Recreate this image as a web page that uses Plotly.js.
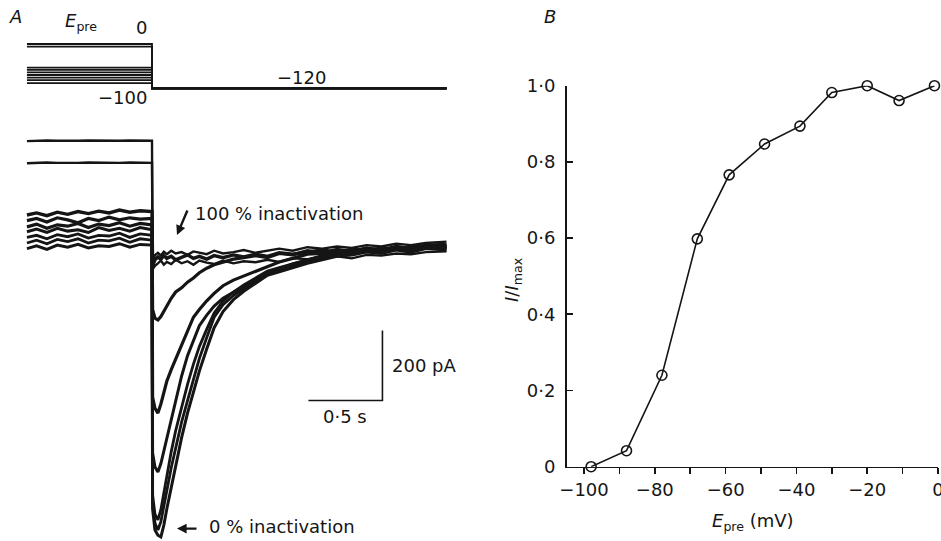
<!DOCTYPE html>
<html>
<head>
<meta charset="utf-8">
<script src="https://cdn.plot.ly/plotly-3.0.1.min.js"></script>
<style>html,body{margin:0;padding:0;background:#fff;}#chart{width:941px;height:541px;}</style>
</head>
<body>
<div id="chart"></div>
<script>
// ---------- Panel A: voltage protocol (mV) ----------
const protoStart = -0.845;   // s
const protoEnd = 1.99;       // s
const testPotential = -120;  // mV
const prepulseLevels = [0, -7, -64, -70, -77, -84, -91, -98, -106]; // mV (schematic)

// ---------- Panel A: current traces (pA, time in s) ----------
const tPre = [-0.845,-0.78,-0.71,-0.64,-0.57,-0.50,-0.43,-0.36,-0.29,-0.22,-0.15,-0.08,0];
const tPost = [0.004,0.02,0.04,0.06,0.08,0.10,0.13,0.16,0.20,0.24,0.28,0.32,0.37,0.42,0.48,0.55,0.62,0.70,0.78,0.86,0.95,1.05,1.15,1.25,1.35,1.45,1.55,1.65,1.75,1.85,1.99];

const curA_pre = [331,332,333,332,331,332,333,332,331,332,333,332,332];
const curA_post = [-35,-25,-18,-10,-22,-14,-20,-8,-18,-12,-22,-10,-16,-20,-10,-18,-12,-15,-8,-14,-4,-6,-2,2,-4,6,4,10,8,14,16];
const curB_pre = [268,269,270,269,268,269,270,269,268,269,270,269,269];
const curB_post = [-20,5,12,4,15,8,18,10,14,6,16,12,8,18,10,14,20,12,18,24,18,28,24,30,26,34,30,38,34,40,44];
const curC_pre = [120,126,118,128,122,130,124,131,126,134,128,132,130];
const curC_post = [-25,-8,0,-6,4,-4,2,-8,0,6,-4,2,-6,4,-2,6,0,8,2,12,8,14,20,14,22,18,26,22,30,28,32];
const curD_pre = [104,110,100,112,106,98,110,104,114,106,112,108,110];
const curD_post = [-150,-175,-180,-170,-155,-140,-118,-100,-88,-72,-60,-45,-32,-22,-15,-6,-2,4,-2,10,6,18,12,22,16,26,20,30,24,34,36];
const curE_pre = [86,94,82,92,88,96,84,94,90,98,88,96,92];
const curE_post = [-400,-432,-446,-420,-385,-355,-322,-292,-250,-208,-172,-150,-125,-104,-82,-66,-54,-40,-26,-14,-4,8,10,16,14,24,20,28,22,32,30];
const curF_pre = [72,80,70,82,74,78,70,84,76,82,74,84,78];
const curF_post = [-560,-600,-614,-590,-555,-518,-462,-408,-340,-282,-236,-196,-166,-140,-118,-100,-84,-64,-48,-34,-20,-8,2,12,14,22,18,26,22,30,28];
const curG_pre = [56,62,52,64,58,66,54,62,60,68,56,66,62];
const curG_post = [-680,-735,-751,-722,-672,-622,-556,-496,-426,-364,-306,-256,-206,-160,-126,-100,-80,-60,-40,-30,-20,-8,4,10,12,20,16,26,20,30,26];
const curH_pre = [40,48,38,50,44,52,40,48,46,54,42,52,48];
const curH_post = [-700,-760,-780,-756,-712,-666,-602,-546,-472,-410,-350,-290,-230,-172,-136,-110,-90,-70,-46,-38,-26,-14,-4,6,10,18,14,24,18,28,24];
const curI_pre = [24,32,22,34,28,36,26,32,30,38,28,36,34];
const curI_post = [-720,-780,-795,-800,-766,-720,-656,-596,-516,-446,-386,-326,-262,-202,-156,-122,-98,-76,-52,-42,-30,-18,-8,2,6,14,10,20,14,24,20];

// scale bar
const scaleBarT = [1.057, 1.557, 1.557]; // s
const scaleBarI = [-410, -410, -210];    // pA

// ---------- Panel B ----------
const ePre = [-98, -88, -78, -68, -59, -49, -39, -30, -20, -11, -1];
const iNorm = [0.0, 0.042, 0.24, 0.598, 0.766, 0.847, 0.894, 0.982, 1.0, 0.961, 1.0];
const bXTicks = [-100,-80,-60,-40,-20,0];
const bXText = ['\u2212100','\u221280','\u221260','\u221240','\u221220','0'];
const bXMinor = [-90,-70,-50,-30,-10];
const bYTicks = [0,0.2,0.4,0.6,0.8,1.0];
const bYText = ['0','0\u00b72','0\u00b74','0\u00b76','0\u00b78','1\u00b70'];

const INK = '#151515';
const traces = [];

prepulseLevels.forEach(v => {
  traces.push({
    x: [protoStart, 0, 0, protoEnd], y: [v, v, testPotential, testPotential],
    xaxis: 'x', yaxis: 'y', mode: 'lines', type: 'scatter',
    line: {color: INK, width: 1.8}, hoverinfo: 'skip'
  });
});

const currents = [
  [curA_pre, curA_post, 2.4], [curB_pre, curB_post, 2.4],
  [curC_pre, curC_post, 3.4], [curD_pre, curD_post, 3.2],
  [curE_pre, curE_post, 3.2], [curF_pre, curF_post, 3.0],
  [curG_pre, curG_post, 2.8], [curH_pre, curH_post, 2.8],
  [curI_pre, curI_post, 3.0]
];
currents.forEach(c => {
  traces.push({
    x: tPre.concat(tPost), y: c[0].concat(c[1]),
    xaxis: 'x', yaxis: 'y2', mode: 'lines', type: 'scatter',
    line: {color: INK, width: c[2]}, hoverinfo: 'skip'
  });
});

traces.push({
  x: scaleBarT, y: scaleBarI, xaxis: 'x', yaxis: 'y2', mode: 'lines',
  type: 'scatter', line: {color: INK, width: 1.6}, hoverinfo: 'skip'
});

traces.push({
  x: ePre, y: iNorm, xaxis: 'x3', yaxis: 'y3', mode: 'lines+markers',
  type: 'scatter', cliponaxis: false,
  line: {color: INK, width: 1.6},
  marker: {symbol: 'circle-open', size: 10, color: INK, line: {width: 1.6, color: INK}}
});

const F = 'DejaVu Sans';
function P(px, py, text, opts) {
  return Object.assign({xref: 'paper', yref: 'paper', x: px / 941, y: (541 - py) / 541,
    text: text, showarrow: false, xanchor: 'center', yanchor: 'middle',
    font: {family: F, size: 18, color: INK}}, opts || {});
}

const annotations = [
  P(16, 16, '<i>A</i>'),
  P(550, 17, '<i>B</i>'),
  P(81, 22, '<i>E</i><sub>pre</sub>'),
  P(141, 28, '0'),
  P(122, 98, '\u2212100'),
  P(301, 77, '\u2212120'),
  {xref: 'x', yref: 'y2', x: 0.277, y: 123, text: '100 % inactivation', showarrow: false,
   xanchor: 'left', yanchor: 'middle', font: {family: F, size: 18, color: INK}},
  {xref: 'x', yref: 'y2', x: 0.169, y: 63, text: '', showarrow: true, ax: 11, ay: -26,
   arrowhead: 2, arrowsize: 0.8, arrowwidth: 2.4, arrowcolor: INK},
  {xref: 'x', yref: 'y2', x: 0.372, y: -771, text: '0 % inactivation', showarrow: false,
   xanchor: 'left', yanchor: 'middle', font: {family: F, size: 18, color: INK}},
  {xref: 'x', yref: 'y2', x: 0.169, y: -776, text: '', showarrow: true, ax: 21, ay: 0,
   arrowhead: 2, arrowsize: 0.8, arrowwidth: 2.4, arrowcolor: INK},
  {xref: 'x', yref: 'y2', x: 1.61, y: -310, text: '200 pA', showarrow: false,
   xanchor: 'left', yanchor: 'middle', font: {family: F, size: 18, color: INK}},
  {xref: 'x', yref: 'y2', x: 1.307, y: -457, text: '0\u00b75 s', showarrow: false,
   xanchor: 'center', yanchor: 'middle', font: {family: F, size: 18, color: INK}},
  P(753, 522, '<i>E</i><sub>pre</sub> (mV)'),
  P(513, 280, '<i>I</i>/<i>I</i><sub>max</sub>', {textangle: -90})
];

const layout = {
  width: 941, height: 541,
  margin: {l: 0, r: 0, t: 0, b: 0},
  paper_bgcolor: '#ffffff', plot_bgcolor: 'rgba(0,0,0,0)',
  showlegend: false,
  font: {family: F, size: 18, color: INK},
  xaxis: {domain: [0, 0.5], range: [-1.027, 2.152], visible: false},
  yaxis: {domain: [0.79667, 1], range: [-178.8, 119.2], visible: false, anchor: 'x'},
  yaxis2: {domain: [0, 0.79667], range: [-811.4, 420], visible: false, anchor: 'x'},
  xaxis3: {domain: [0.60223, 0.99681], range: [-104.9, 0], anchor: 'y3',
    showline: true, linecolor: INK, linewidth: 1.6, mirror: false,
    ticks: 'outside', ticklen: 6, tickwidth: 1.6, tickcolor: INK,
    tickmode: 'array', tickvals: bXTicks, ticktext: bXText, showgrid: false, zeroline: false,
    minor: {tickmode: 'array', tickvals: bXMinor, ticks: 'outside', ticklen: 6,
      tickwidth: 1.6, tickcolor: INK, showgrid: false},
    ticklabeloverflow: 'allow',
    tickfont: {family: F, size: 18, color: INK}},
  yaxis3: {domain: [0.13734, 0.84159], range: [0, 1], anchor: 'x3',
    showline: true, linecolor: INK, linewidth: 1.6,
    ticks: 'inside', ticklen: 6, tickwidth: 1.6, tickcolor: INK,
    tickvals: bYTicks, ticktext: bYText, showgrid: false, zeroline: false,
    ticklabelstandoff: 6,
    tickfont: {family: F, size: 18, color: INK}},
  annotations: annotations
};

Plotly.newPlot('chart', traces, layout, {displayModeBar: false, staticPlot: true});
</script>
</body>
</html>
